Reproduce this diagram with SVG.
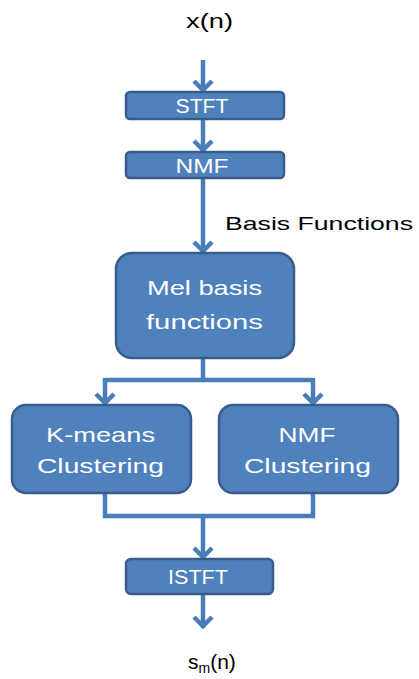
<svg xmlns="http://www.w3.org/2000/svg" width="419" height="679" viewBox="0 0 419 679">
<style>
.box{fill:#4F81BD;stroke:#385D8A;stroke-width:2.5}
.bt{fill:#FFFFFF;font-family:"Liberation Sans",Arial,sans-serif;text-anchor:middle}
.lbl{fill:#000000;font-family:"Liberation Sans",Arial,sans-serif}
.con{fill:none;stroke:#4A7EBB;stroke-width:4.5}
</style>
<defs>
<marker id="arr" markerUnits="userSpaceOnUse" viewBox="-16 -12 18 24" refX="0" refY="0" markerWidth="18" markerHeight="24" orient="auto">
<path d="M-11,-9 L-2,0 L-11,9" fill="none" stroke="#4A7EBB" stroke-width="4.5" stroke-linejoin="miter"/>
</marker>
</defs>
<rect width="419" height="679" fill="#FFFFFF"/>
<g id="connectors">
<line class="con" x1="203" y1="60" x2="203" y2="92" marker-end="url(#arr)"/>
<line class="con" x1="203" y1="119" x2="203" y2="152" marker-end="url(#arr)"/>
<line class="con" x1="203" y1="178" x2="203" y2="253" marker-end="url(#arr)"/>
<polyline class="con" points="203,358 203,380"/>
<polyline class="con" points="105,380 313,380"/>
<line class="con" x1="105" y1="378" x2="105" y2="405" marker-end="url(#arr)"/>
<line class="con" x1="313" y1="378" x2="313" y2="405" marker-end="url(#arr)"/>
<polyline class="con" points="105,493 105,516 313,516 313,493"/>
<line class="con" x1="203" y1="516" x2="203" y2="559" marker-end="url(#arr)"/>
<line class="con" x1="203" y1="594" x2="203" y2="628" marker-end="url(#arr)"/>
</g>
<g id="input">
<text class="lbl" x="186" y="28" font-size="21" textLength="47" lengthAdjust="spacingAndGlyphs">x(n)</text>
</g>
<g id="stft">
<rect class="box" x="126" y="92" width="158" height="27" rx="4"/>
<text class="bt" x="202" y="113" font-size="20" textLength="53" lengthAdjust="spacingAndGlyphs">STFT</text>
</g>
<g id="nmf">
<rect class="box" x="126" y="152" width="158" height="26" rx="4"/>
<text class="bt" x="202" y="173" font-size="20" textLength="53" lengthAdjust="spacingAndGlyphs">NMF</text>
</g>
<g id="basis-label">
<text class="lbl" x="225" y="230" font-size="19" textLength="188" lengthAdjust="spacingAndGlyphs">Basis Functions</text>
</g>
<g id="mel">
<rect class="box" x="116" y="253" width="178" height="105" rx="16"/>
<text class="bt" x="204.5" y="295" font-size="21" textLength="115" lengthAdjust="spacingAndGlyphs">Mel basis</text>
<text class="bt" x="204.5" y="329" font-size="21" textLength="117" lengthAdjust="spacingAndGlyphs">functions</text>
</g>
<g id="kmeans">
<rect class="box" x="12" y="405" width="179" height="88" rx="14"/>
<text class="bt" x="100.5" y="442" font-size="21" textLength="109" lengthAdjust="spacingAndGlyphs">K-means</text>
<text class="bt" x="100.5" y="473" font-size="21" textLength="127" lengthAdjust="spacingAndGlyphs">Clustering</text>
</g>
<g id="nmfclust">
<rect class="box" x="219" y="405" width="179" height="88" rx="14"/>
<text class="bt" x="307" y="442" font-size="21" textLength="57" lengthAdjust="spacingAndGlyphs">NMF</text>
<text class="bt" x="307.5" y="473" font-size="21" textLength="127" lengthAdjust="spacingAndGlyphs">Clustering</text>
</g>
<g id="istft">
<rect class="box" x="126" y="559" width="147" height="35" rx="5"/>
<text class="bt" x="198" y="584" font-size="21" textLength="60" lengthAdjust="spacingAndGlyphs">ISTFT</text>
</g>
<g id="output">
<text class="lbl" x="188" y="669" font-size="21">s<tspan font-size="14" dy="4">m</tspan><tspan dy="-4">(n)</tspan></text>
</g>
</svg>
